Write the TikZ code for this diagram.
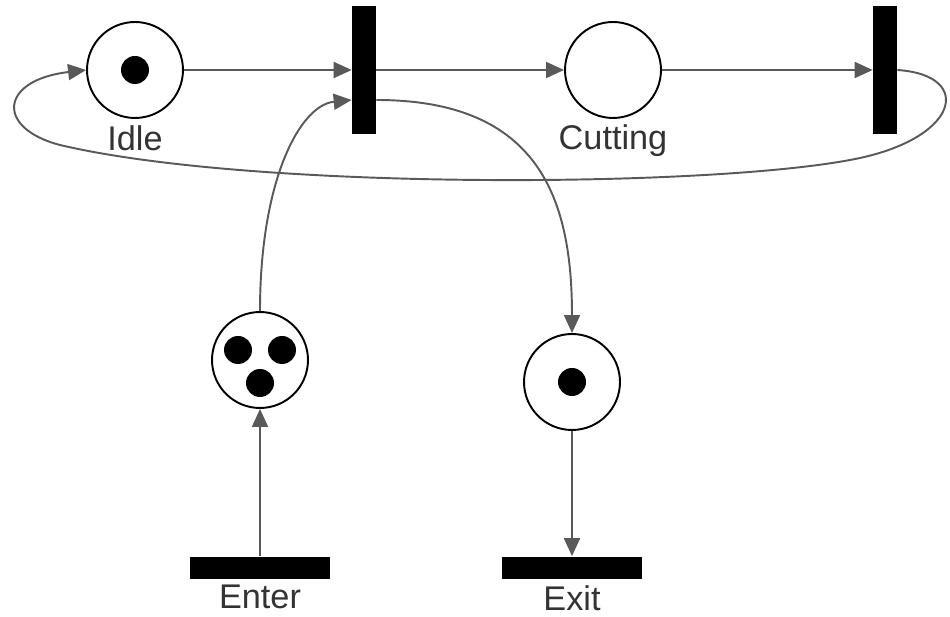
\documentclass[tikz,border=0pt]{standalone}
\usepackage{fontspec}
\setmainfont{Liberation Sans}
\usetikzlibrary{positioning, arrows.meta}
\definecolor{arcgray}{HTML}{595959}
\definecolor{txtgray}{HTML}{333333}

\begin{document}
\begin{tikzpicture}[x=0.02cm, y=-0.02cm,
    place/.style={circle, draw=black, line width=1.1pt, minimum size=1.92cm, inner sep=0pt},
    vtrans/.style={rectangle, fill=black, minimum width=0.48cm, minimum height=2.56cm, inner sep=0pt},
    htrans/.style={rectangle, fill=black, minimum width=2.8cm, minimum height=0.46cm, inner sep=0pt},
    lbl/.style={inner sep=0pt, text=txtgray, font=\fontsize{19.5}{23}\selectfont},
    arc/.style={draw=arcgray, line width=1.1pt, -{Triangle[length=0.36cm, width=0.32cm]}}]
    \useasboundingbox (0,0) rectangle (950,617);
    % places and transitions
    \node[place] (idle) at (135,70) {};
    \node[vtrans] (start) at (364,70) {};
    \node[place] (cutting) at (613,70) {};
    \node[vtrans] (finish) at (885,70) {};
    \node[place] (queue) at (260,360) {};
    \node[place] (done) at (572,382) {};
    \node[htrans] (enter) at (260,568) {};
    \node[htrans] (exit) at (572,568) {};
    \node[lbl, below=0.12cm of idle] (idlelbl) {Idle};
    \node[lbl, below=0.1cm of cutting] (cuttinglbl) {Cutting};
    \node[lbl, below=0.1cm of enter] (enterlbl) {Enter};
    \node[lbl, below=0.1cm of exit] (exitlbl) {Exit};
    % tokens
    \fill (idle) circle (0.28cm);
    \fill ([shift={(-22,-10)}]queue) circle (0.28cm);
    \fill ([shift={(22,-10)}]queue) circle (0.28cm);
    \fill ([shift={(0,23)}]queue) circle (0.28cm);
    \fill (done) circle (0.28cm);
    % arcs
    \draw[arc] (finish.east) .. controls (975,75) and (960,140) .. (850,160) .. controls (700,188) and (250,190) .. (60,145) .. controls (-5,128) and (0,80) .. (idle.west);
    \draw[arc] (idle) -- (start);
    \draw[arc] (start) -- (cutting);
    \draw[arc] (cutting) -- (finish);
    \draw[arc] (queue.north) .. controls (260,180) and (300,105) .. ([yshift=-0.6cm]start.west);
    \draw[arc] ([yshift=-0.6cm]start.east) .. controls (540,100) and (572,200) .. (done.north);
    \draw[arc] (enter) -- (queue);
    \draw[arc] (done) -- (exit);
\end{tikzpicture}
\end{document}
